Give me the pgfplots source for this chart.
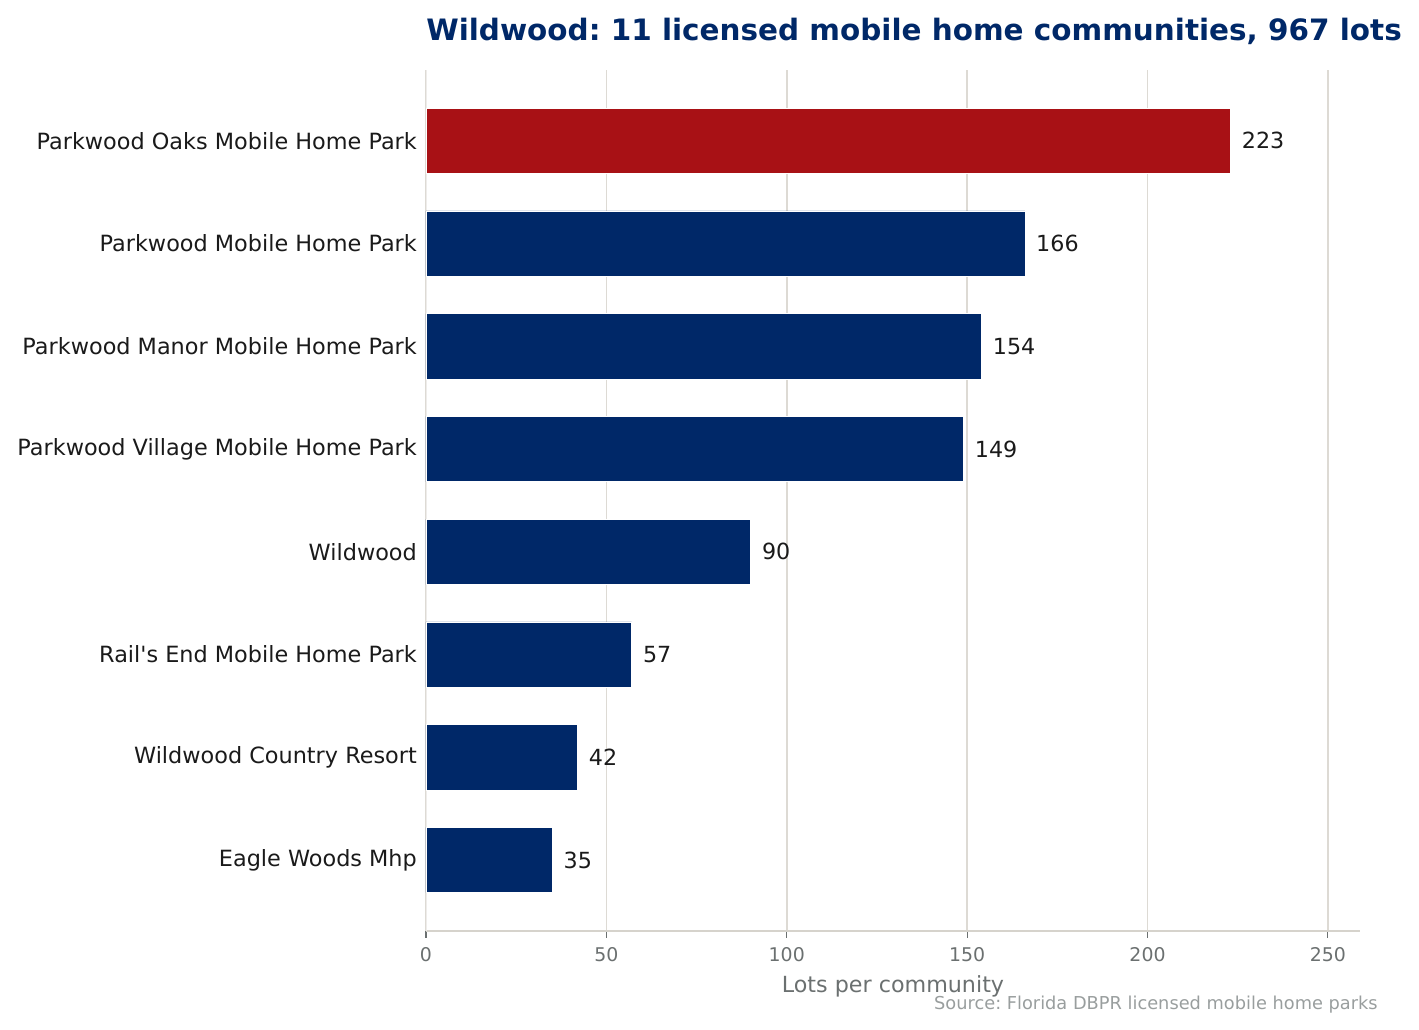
\documentclass[border=0pt]{standalone}
\usepackage{pgfplots}
\pgfplotsset{compat=1.18}
\usepackage{fontspec}
\setmainfont{DejaVu Sans}[Ligatures=TeXOff]
\frenchspacing
\definecolor{navy}{RGB}{0,40,104}
\definecolor{hilite}{RGB}{168,17,21}
\definecolor{gridc}{RGB}{221,218,212}
\definecolor{spinec}{RGB}{214,211,204}
\definecolor{tickc}{RGB}{107,112,112}
\definecolor{srcc}{RGB}{153,158,158}
\definecolor{txtc}{RGB}{26,26,26}

\begin{document}
\begin{tikzpicture}
\path[use as bounding box] (-306.72bp,-71.28bp) rectangle (714.96bp,670.32bp);
\begin{axis}[
    at={(0,0)}, anchor=south west,
    scale only axis,
    width=672.48bp, height=619.92bp,
    xbar, bar width=47bp,
    xmin=0, xmax=258.9,
    ymin=-0.69, ymax=7.69,
    ytick={0,...,7},
    yticklabels={Eagle Woods Mhp, Wildwood Country Resort, Rail's End Mobile Home Park, Wildwood, Parkwood Village Mobile Home Park, Parkwood Manor Mobile Home Park, Parkwood Mobile Home Park, Parkwood Oaks Mobile Home Park},
    xtick={0,50,...,250},
    xmajorgrids,
    grid style={gridc, line width=1.1bp},
    axis x line*=bottom,
    axis y line*=left,
    x axis line style={spinec, line width=1.1bp, -},
    y axis line style={gridc!50, line width=0.6bp, -},
    ytick style={draw=none},
    xtick style={tickc, line width=0.8bp},
    tick align=outside,
    major tick length=5bp,
    /pgf/number format/assume math mode=true,
    xticklabel style={font=\fontsize{13.6bp}{16bp}\selectfont, text=tickc, yshift=-3bp},
    yticklabel style={font=\fontsize{16.1bp}{19bp}\selectfont, text=txtc, inner xsep=0pt, xshift=-1.4bp},
    nodes near coords,
    nodes near coords style={font=\fontsize{16bp}{19bp}\selectfont, text=txtc, anchor=west, inner sep=0pt, xshift=8bp},
    every axis plot/.append style={draw=white, line width=0.4bp, bar shift=0pt},
]
\addplot[fill=navy] coordinates {(35,0) (42,1) (57,2) (90,3) (149,4) (154,5) (166,6)};
\addplot[fill=hilite] coordinates {(223,7)};
\end{axis}
\node[anchor=base west, inner sep=0pt, text=navy, font=\fontsize{21.2bp}{24bp}\selectfont\bfseries] at (0bp,640.8bp) {Wildwood: 11 licensed mobile home communities, 967 lots};
\node[anchor=base, inner sep=0pt, text=tickc, font=\fontsize{16bp}{19bp}\selectfont] at (336.24bp,-44.5bp) {Lots per community};
\node[anchor=base east, inner sep=0pt, text=srcc, font=\fontsize{12.8bp}{15bp}\selectfont] at (685.4bp,-56.5bp) {Source: Florida DBPR licensed mobile home parks};
\end{tikzpicture}
\end{document}
